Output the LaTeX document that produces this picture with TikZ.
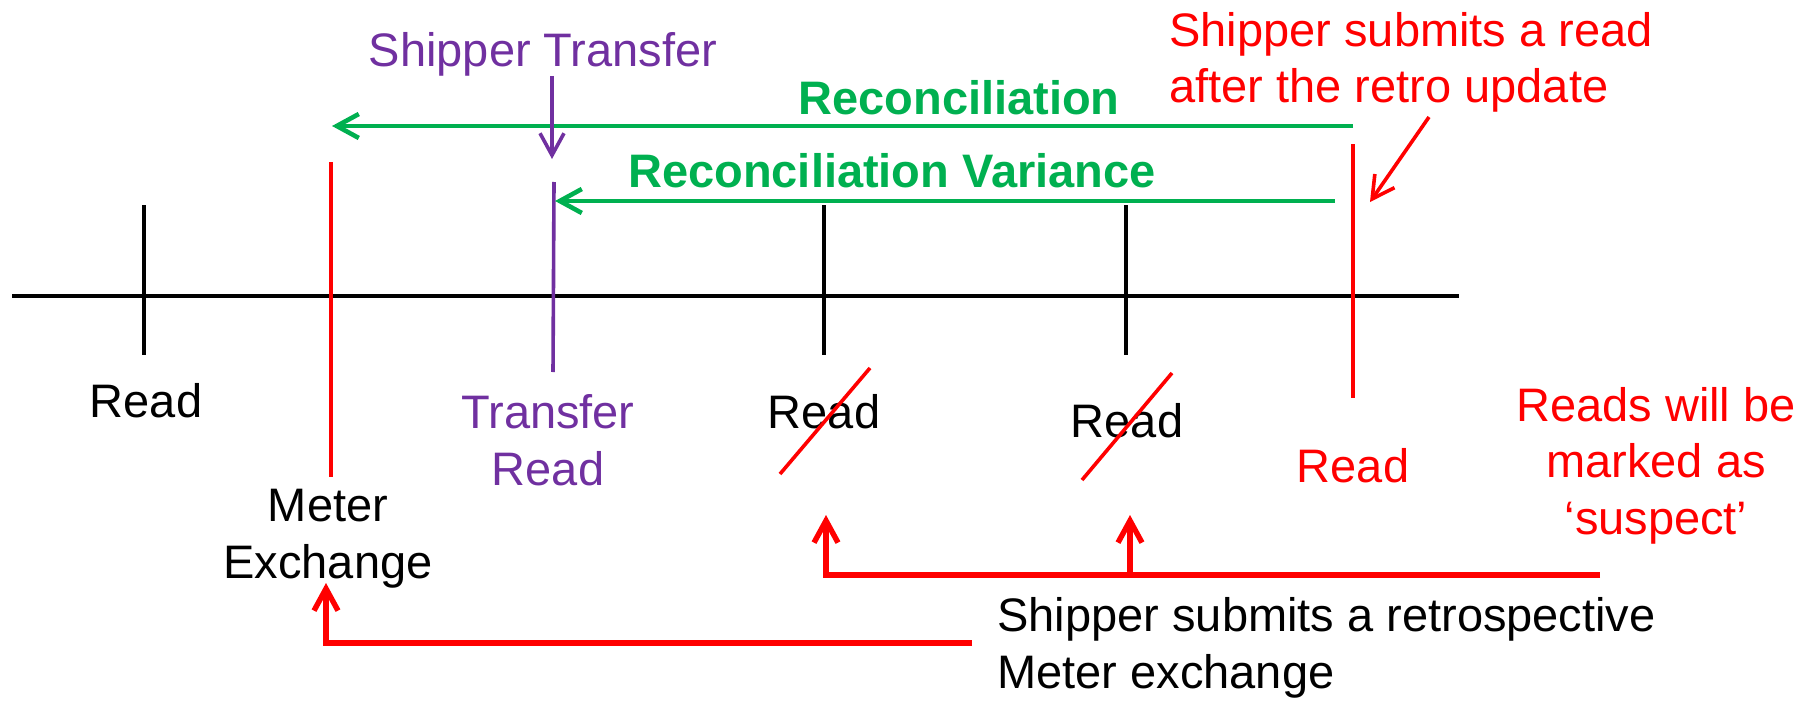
\documentclass[tikz,border=0pt]{standalone}
\usepackage{fontspec}
\setmainfont{Liberation Sans}
\usetikzlibrary{arrows.meta}
\definecolor{pgreen}{HTML}{00B050}
\definecolor{ppurple}{HTML}{7030A0}
\definecolor{pred}{HTML}{FF0000}
\begin{document}
\begin{tikzpicture}[x=0.5pt,y=-0.5pt,
  lbl/.style={font=\fontsize{23.5}{28.25}\selectfont, inner sep=0pt, anchor=base},
  boldlbl/.style={font=\fontsize{23.5}{28.25}\selectfont\bfseries, inner sep=0pt, anchor=base, text=pgreen},
  barb/.style={-{Straight Barb[length=11pt,width=12pt]}},
  axisline/.style={line width=2.4pt, black},
  tickline/.style={line width=1.8pt},
  greenarrow/.style={barb, line width=2.3pt, pgreen},
  bracket/.style={barb, line width=2.7pt, pred},
  slash/.style={line width=1.8pt, pred}
]
\useasboundingbox (0,0) rectangle (1808,701);
% timeline
\coordinate (tl0) at (12,296);
\coordinate (tl1) at (1459,296);
\draw[axisline] (tl0) -- (tl1);
% ticks
\coordinate (t1a) at (144,205); \coordinate (t1b) at (144,355);
\coordinate (t2a) at (824,205); \coordinate (t2b) at (824,355);
\coordinate (t3a) at (1126,205); \coordinate (t3b) at (1126,355);
\draw[tickline] (t1a) -- (t1b);
\draw[tickline] (t2a) -- (t2b);
\draw[tickline] (t3a) -- (t3b);
\coordinate (mxa) at (331,162); \coordinate (mxb) at (331,477);
\draw[tickline, pred] (mxa) -- (mxb);
\coordinate (rra) at (1353,144); \coordinate (rrb) at (1353,398);
\draw[tickline, pred] (rra) -- (rrb);
\coordinate (pta) at (554,182); \coordinate (ptb) at (553,372);
\draw[tickline, ppurple] (pta) -- (ptb);
% labels
\node[lbl] (rd1) at (146,417) {Read};
\node[lbl, align=center] (mex) at (328,578) {Meter\\Exchange};
\node[lbl, align=center, text=ppurple] (trd) at (548,485) {Transfer\\Read};
\node[lbl] (rd2) at (824,428) {Read};
\node[lbl] (rd3) at (1127,437) {Read};
\node[lbl, text=pred] (rd4) at (1353,482) {Read};
\node[lbl, align=center, text=pred] (sus) at (1656,534) {Reads will be\\marked as\\‘suspect’};
\node[lbl, align=left, anchor=base west] (retro) at (997,688) {Shipper submits a retrospective\\Meter exchange};
\node[lbl, align=left, anchor=base west, text=pred] (sread) at (1169,103) {Shipper submits a read\\after the retro update};
\node[lbl, text=ppurple] (st) at (543,67) {Shipper Transfer};
\node[boldlbl] (rec) at (959,115) {Reconciliation};
\node[boldlbl] (recv) at (892,187) {Reconciliation Variance};
% green arrows
\coordinate (g1a) at (1353,126); \coordinate (g1b) at (332,126);
\draw[greenarrow] (g1a) -- (g1b);
\coordinate (g2a) at (1335,201); \coordinate (g2b) at (555,201);
\draw[greenarrow] (g2a) -- (g2b);
% purple arrow
\coordinate (pa) at (552,76); \coordinate (pb) at (552,159);
\draw[barb, line width=1.8pt, ppurple] (pa) -- (pb);
% red diagonal arrow
\coordinate (ra) at (1429,117); \coordinate (rb) at (1370,202);
\draw[barb, line width=1.8pt, pred] (ra) -- (rb);
% slashes
\coordinate (s1a) at (780,474); \coordinate (s1b) at (870,368);
\coordinate (s2a) at (1082,480); \coordinate (s2b) at (1172,373);
\draw[slash] (s1a) -- (s1b);
\draw[slash] (s2a) -- (s2b);
% brackets
\coordinate (b1r) at (1600,575); \coordinate (b1t) at (826,515);
\coordinate (b1m) at (1130,575); \coordinate (b1mt) at (1130,515);
\draw[bracket] (b1r) -| (b1t);
\draw[bracket] (b1m) -- (b1mt);
\coordinate (b2r) at (972,643); \coordinate (b2t) at (326,583);
\draw[bracket] (b2r) -| (b2t);
\end{tikzpicture}
\end{document}
